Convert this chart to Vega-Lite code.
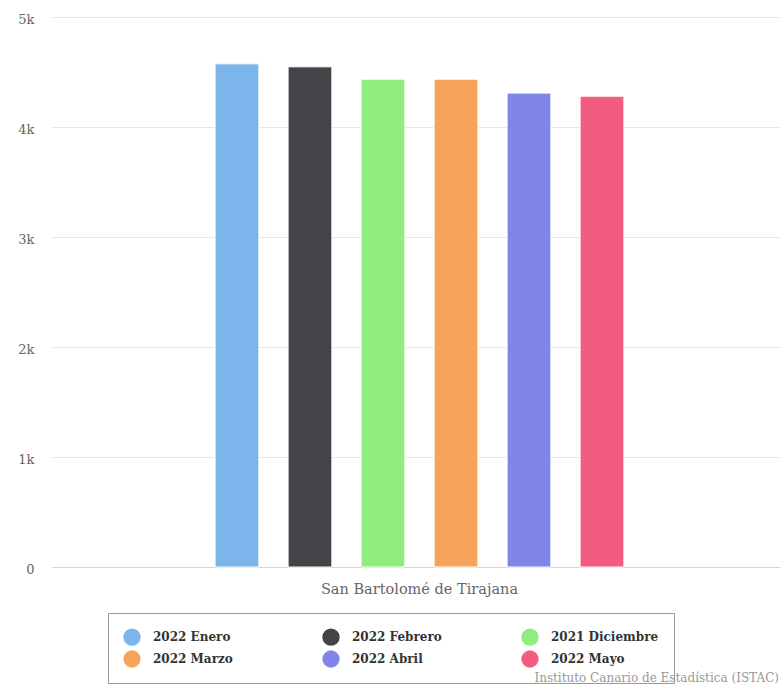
{
  "$schema": "https://vega.github.io/schema/vega-lite/v6.json",
  "width": 728,
  "height": 550,
  "autosize": {"type": "none"},
  "padding": {"left": 52, "top": 17, "right": 0, "bottom": 119},
  "background": "#ffffff",
  "title": {
    "text": "Instituto Canario de Estadística (ISTAC)",
    "orient": "bottom",
    "anchor": "end",
    "frame": "group",
    "font": "DejaVu Serif",
    "fontSize": 12,
    "fontWeight": "normal",
    "color": "#999999",
    "offset": -11,
    "dx": -1
  },
  "data": {
    "values": [
      {"municipio": "San Bartolomé de Tirajana", "periodo": "2022 Enero", "valor": 4574},
      {"municipio": "San Bartolomé de Tirajana", "periodo": "2022 Febrero", "valor": 4547},
      {"municipio": "San Bartolomé de Tirajana", "periodo": "2021 Diciembre", "valor": 4435},
      {"municipio": "San Bartolomé de Tirajana", "periodo": "2022 Marzo", "valor": 4435},
      {"municipio": "San Bartolomé de Tirajana", "periodo": "2022 Abril", "valor": 4308},
      {"municipio": "San Bartolomé de Tirajana", "periodo": "2022 Mayo", "valor": 4280}
    ]
  },
  "mark": {"type": "bar", "stroke": "#ffffff", "strokeWidth": 1},
  "encoding": {
    "x": {
      "field": "municipio",
      "type": "nominal",
      "title": null,
      "scale": {"paddingInner": 0, "paddingOuter": 0.331, "align": 0.512},
      "axis": {
        "labelAngle": 0,
        "ticks": false,
        "domainColor": "#ccd6eb",
        "labelColor": "#666666",
        "labelFont": "DejaVu Serif",
        "labelFontSize": 14.5,
        "labelPadding": 15,
        "labelLimit": 500
      }
    },
    "xOffset": {
      "field": "periodo",
      "type": "nominal",
      "sort": ["2022 Enero", "2022 Febrero", "2021 Diciembre", "2022 Marzo", "2022 Abril", "2022 Mayo"],
      "scale": {"paddingInner": 0.4, "paddingOuter": 0.2}
    },
    "y": {
      "field": "valor",
      "type": "quantitative",
      "title": null,
      "scale": {"domain": [0, 5000], "nice": false},
      "axis": {
        "values": [0, 1000, 2000, 3000, 4000, 5000],
        "labelExpr": "datum.value == 0 ? '0' : (datum.value / 1000) + 'k'",
        "domain": false,
        "ticks": false,
        "gridColor": "#e6e6e6",
        "labelColor": "#666666",
        "labelFont": "DejaVu Serif",
        "labelFontSize": 13,
        "labelPadding": 18,
        "labelOffset": 2
      }
    },
    "color": {
      "field": "periodo",
      "type": "nominal",
      "sort": ["2022 Enero", "2022 Febrero", "2021 Diciembre", "2022 Marzo", "2022 Abril", "2022 Mayo"],
      "scale": {
        "domain": ["2022 Enero", "2022 Febrero", "2021 Diciembre", "2022 Marzo", "2022 Abril", "2022 Mayo"],
        "range": ["#7cb5ec", "#434348", "#90ed7d", "#f7a35c", "#8085e9", "#f15c80"]
      },
      "legend": {
        "title": null,
        "orient": "none",
        "legendX": 56,
        "legendY": 596,
        "direction": "horizontal",
        "columns": 3,
        "gridAlign": "all",
        "columnPadding": 61,
        "rowPadding": 4,
        "padding": 15,
        "strokeColor": "#999999",
        "symbolType": "circle",
        "symbolSize": 300,
        "symbolStrokeWidth": 0,
        "symbolOpacity": 1,
        "labelFont": "DejaVu Serif",
        "labelFontSize": 12,
        "labelFontWeight": "bold",
        "labelColor": "#333333",
        "labelOffset": 12,
        "labelLimit": 300
      }
    }
  },
  "config": {"view": {"stroke": null}}
}
